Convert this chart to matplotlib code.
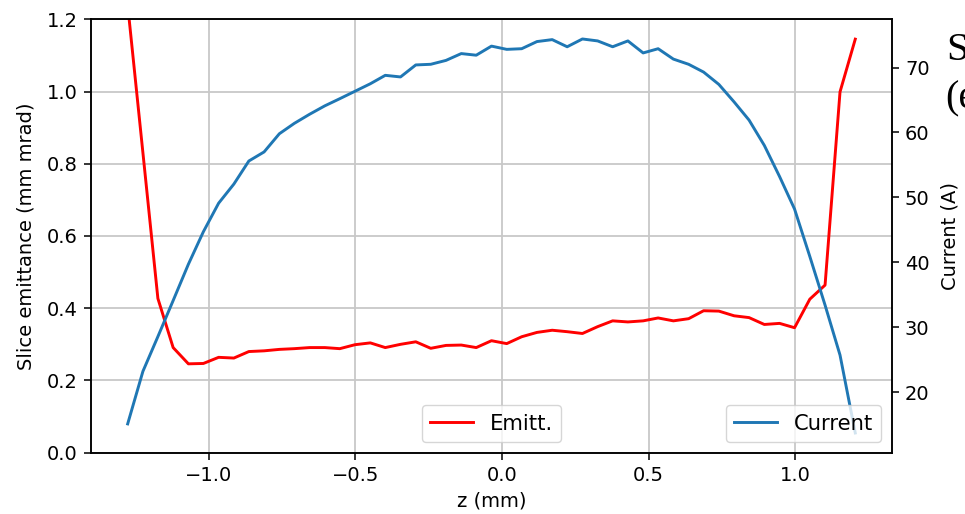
import matplotlib.pyplot as plt

plt.rcParams['font.size'] = 14
plt.rcParams['axes.linewidth'] = 1.1
for k in ('xtick', 'ytick'):
    plt.rcParams[k + '.major.size'] = 4.8
    plt.rcParams[k + '.major.width'] = 1.1
    plt.rcParams[k + '.major.pad'] = 4.8

# slice positions along the bunch (mm)
z = [-1.276, -1.224, -1.173, -1.121, -1.069, -1.018, -0.966, -0.914, -0.863,
     -0.811, -0.759, -0.708, -0.656, -0.604, -0.553, -0.501, -0.449, -0.398,
     -0.346, -0.294, -0.243, -0.191, -0.139, -0.088, -0.036, 0.016, 0.067,
     0.119, 0.171, 0.222, 0.274, 0.326, 0.377, 0.429, 0.481, 0.532, 0.584,
     0.636, 0.687, 0.739, 0.791, 0.842, 0.894, 0.946, 0.997, 1.049, 1.101,
     1.152, 1.204]

# slice emittance (mm mrad)
emitt = [1.24, 0.83, 0.427, 0.291, 0.246, 0.247, 0.264, 0.262, 0.280, 0.282,
         0.286, 0.288, 0.291, 0.291, 0.288, 0.299, 0.304, 0.291, 0.300, 0.307,
         0.289, 0.297, 0.298, 0.291, 0.310, 0.302, 0.321, 0.333, 0.339, 0.335,
         0.330, 0.349, 0.365, 0.362, 0.365, 0.373, 0.365, 0.371, 0.393, 0.392,
         0.379, 0.374, 0.355, 0.358, 0.346, 0.425, 0.464, 0.999, 1.145]

# slice current (A)
current = [15.1, 23.2, 28.55, 34.1, 39.7, 44.7, 49.1, 52.05, 55.6, 57.0,
           59.8, 61.4, 62.8, 64.1, 65.2, 66.35, 67.5, 68.8, 68.55, 70.4,
           70.5, 71.1, 72.15, 71.9, 73.3, 72.8, 72.9, 74.0, 74.3, 73.2,
           74.4, 74.1, 73.2, 74.1, 72.25, 72.9, 71.3, 70.5, 69.3, 67.4,
           64.7, 61.9, 58.0, 53.2, 48.2, 40.9, 33.4, 25.7, 13.7]

fig = plt.figure(figsize=(9.65, 5.14), dpi=100)
ax = fig.add_axes([0.0946, 0.1193, 0.8294, 0.8432])

ax.plot(z, emitt, color='red', lw=2.1, label='Emitt.')
ax.set_ylim(0, 1.2)
ax.set_xlabel('z (mm)', fontsize=14, labelpad=5)
ax.set_ylabel('Slice emittance (mm mrad)', fontsize=14, labelpad=8)
ax.grid(True, color='#c8c8c8', lw=1.3)
ax.legend(loc='lower center', fontsize=15.2)

ax2 = ax.twinx()
ax2.plot(z, current, color='#1f77b4', lw=2.1, label='Current')
ax2.set_ylabel('Current (A)', fontsize=14, labelpad=8)
ax2.legend(loc='lower right', fontsize=15.2)

# side annotation, runs off the edge of the canvas
fig.text(946.5 / 965, 1 - 60 / 514, 'S', ha='left', va='baseline',
         fontsize=29, family='Liberation Serif')
fig.text(945.5 / 965, 1 - 108 / 514, '(e', ha='left', va='baseline',
         fontsize=29, family='Liberation Serif')

fig.savefig('out.png', dpi=100)
